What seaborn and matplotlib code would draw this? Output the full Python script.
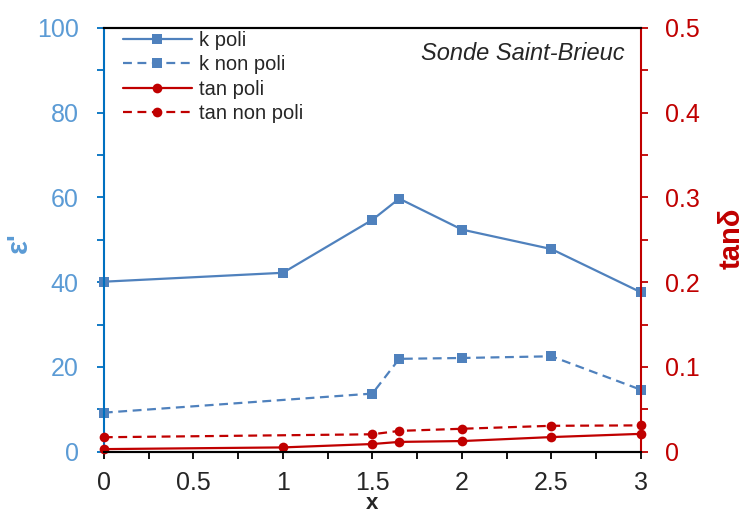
import matplotlib
matplotlib.use("Agg")
import matplotlib.pyplot as plt
import seaborn as sns
import pandas as pd
from matplotlib.ticker import MultipleLocator

# data
x_k_poli = [0, 1, 1.5, 1.65, 2, 2.5, 3]
k_poli = [40.1, 42.2, 54.7, 59.7, 52.4, 47.8, 37.6]
x_k_non = [0, 1.5, 1.65, 2, 2.5, 3]
k_non_poli = [9.2, 13.7, 21.9, 22.1, 22.5, 14.6]
x_tan_poli = [0, 1, 1.5, 1.65, 2, 2.5, 3]
tan_poli = [0.003, 0.005, 0.009, 0.0115, 0.0125, 0.0172, 0.021]
x_tan_non = [0, 1.5, 1.65, 2, 2.5, 3]
tan_non_poli = [0.017, 0.0205, 0.0245, 0.027, 0.0305, 0.031]

x_ticks = [0, 0.5, 1, 1.5, 2, 2.5, 3]
x_ticklabels = ["0", "0.5", "1", "1.5", "2", "2.5", "3"]
tan_ticks = [0, 0.1, 0.2, 0.3, 0.4, 0.5]
tan_ticklabels = ["0", "0.1", "0.2", "0.3", "0.4", "0.5"]

BLUE = "#4F81BD"
BLUE_AX = "#0070C0"
BLUE_TXT = "#5B9BD5"
RED = "#C00000"
DASH = (0, (4, 2.5))

sns.set_style("ticks")
plt.rcParams["font.family"] = ["Liberation Sans", "DejaVu Sans"]

fig = plt.figure(figsize=(7.47, 5.15), dpi=100)
ax = fig.add_axes([0.139, 0.123, 0.719, 0.823])
ax2 = ax.twinx()

df_kp = pd.DataFrame({"x": x_k_poli, "y": k_poli})
df_kn = pd.DataFrame({"x": x_k_non, "y": k_non_poli})
df_tp = pd.DataFrame({"x": x_tan_poli, "y": tan_poli})
df_tn = pd.DataFrame({"x": x_tan_non, "y": tan_non_poli})

common = dict(markersize=7, markeredgewidth=0, linewidth=1.6, legend=False)
sns.lineplot(data=df_kp, x="x", y="y", ax=ax, color=BLUE, marker="s", label="k poli", **common)
sns.lineplot(data=df_kn, x="x", y="y", ax=ax, color=BLUE, marker="s", linestyle=DASH,
             label="k non poli", **common)
sns.lineplot(data=df_tp, x="x", y="y", ax=ax2, color=RED, marker="o", label="tan poli", **common)
sns.lineplot(data=df_tn, x="x", y="y", ax=ax2, color=RED, marker="o", linestyle=DASH,
             label="tan non poli", **common)
for a in (ax, ax2):
    for ln in a.get_lines():
        ln.set_clip_on(False)

ax.set_xlim(0, 3)
ax.set_ylim(0, 100)
ax2.set_ylim(0, 0.5)
for a in (ax, ax2):
    a.spines["top"].set_color("black")
    a.spines["bottom"].set_color("black")
    a.spines["top"].set_linewidth(1.5)
    a.spines["bottom"].set_linewidth(1.5)
ax.spines["left"].set_color(BLUE_AX)
ax.spines["left"].set_linewidth(1.5)
ax2.spines["right"].set_color(RED)
ax2.spines["right"].set_linewidth(1.5)
ax2.spines["left"].set_visible(False)
ax.spines["right"].set_visible(False)

ax.set_xticks(x_ticks, x_ticklabels)
ax.xaxis.set_minor_locator(MultipleLocator(0.25))
ax.yaxis.set_major_locator(MultipleLocator(20))
ax.yaxis.set_minor_locator(MultipleLocator(10))
ax2.set_yticks(tan_ticks, tan_ticklabels)
ax2.yaxis.set_minor_locator(MultipleLocator(0.05))

ax.tick_params(axis="x", which="both", length=5, width=1.3, labelsize=18, pad=9, color="black")
ax.tick_params(axis="y", which="both", length=5, width=1.3, labelsize=18, pad=13,
               colors=BLUE_AX, labelcolor=BLUE_TXT)
ax2.tick_params(axis="y", which="both", length=5, width=1.3, labelsize=18, pad=12, colors=RED)

ax.set_xlabel("x", fontsize=16, fontweight="bold")
ax.xaxis.set_label_coords(0.5, -0.098)
ax.set_ylabel("ε'", fontsize=21, fontweight="bold", color=BLUE_TXT)
ax.yaxis.set_label_coords(-0.132, 0.4925)
ax2.set_ylabel("tanδ", fontsize=21, fontweight="bold", color=RED)
ax2.yaxis.set_label_coords(1.142, 0.504)

ax.text(0.970, 0.940, "Sonde Saint-Brieuc", transform=ax.transAxes, ha="right", va="center",
        fontsize=17, fontstyle="italic")

h1, l1 = ax.get_legend_handles_labels()
h2, l2 = ax2.get_legend_handles_labels()
ax2.legend(h1 + h2, l1 + l2, loc="upper left", bbox_to_anchor=(0.035, 0.993), frameon=False,
           fontsize=14.5, handlelength=3.45, labelspacing=0.27, handletextpad=0.35,
           borderpad=0, borderaxespad=0)

fig.savefig("out.png", dpi=100)
